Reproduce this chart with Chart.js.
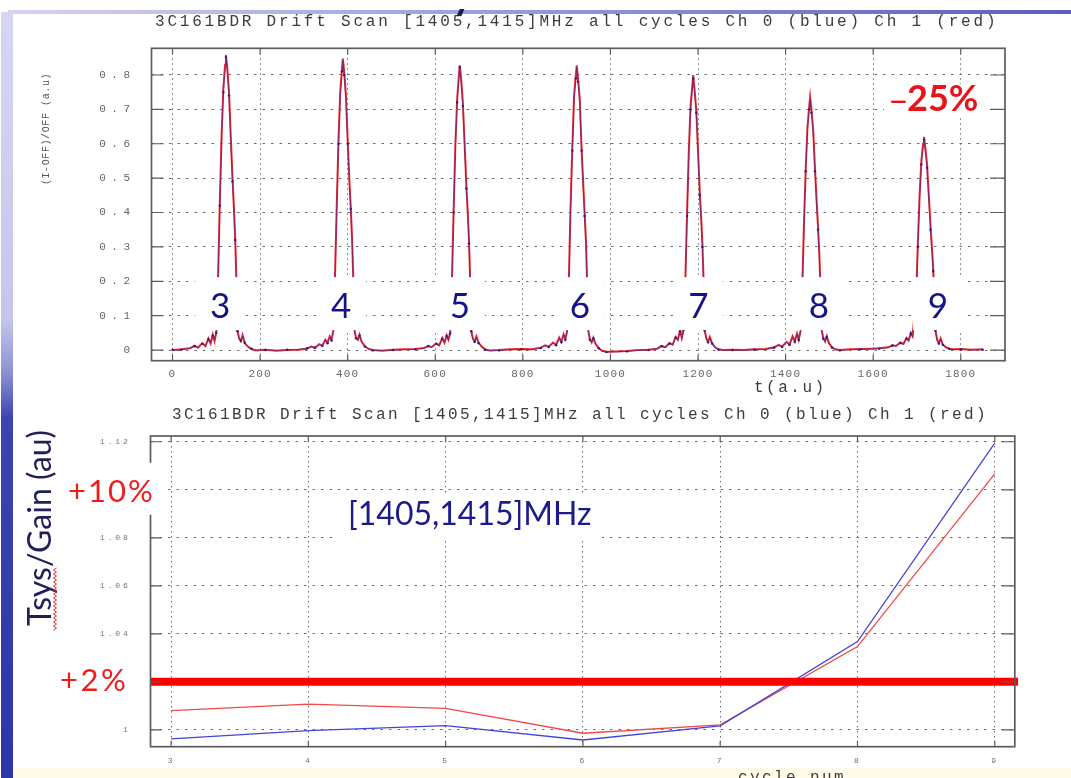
<!DOCTYPE html>
<html>
<head>
<meta charset="utf-8">
<title>3C161BDR drift scan</title>
<script src="https://cdn.jsdelivr.net/npm/chart.js@4.4.1/dist/chart.umd.min.js"></script>
<style>
  html, body { margin: 0; padding: 0; background: #fff; }
  #page { position: relative; width: 1071px; height: 778px; overflow: hidden; background: #fff; }
  #page canvas { position: absolute; left: 0; top: 0; }
  .sidebar { position: absolute; left: 1px; top: 12px; width: 12px; height: 766px;
    background: linear-gradient(to bottom, #d6d6f3 0%, #c6c6ed 40%, #8d92d2 47%, #3c44b2 53%, #2c36a6 100%); }
  .topline { position: absolute; left: 8px; top: 10px; width: 1063px; height: 4px;
    background: linear-gradient(to right, #d4d4f1, #a0a4da 40%, #5a60b8); }
  .footer { position: absolute; left: 13px; top: 768px; width: 1058px; height: 10px; background: #fffbe8; }
</style>
</head>
<body>
<div id="page">
  <div class="sidebar"></div>
  <div class="topline"></div>
  <div class="footer"></div>
  <canvas id="scan" width="1071" height="778"></canvas>
  <canvas id="gain" width="1071" height="778"></canvas>
</div>
<script>
// drift scan samples: time (a.u) and (I-OFF)/OFF for both channels
const scanT = [
  0, 10,
  20, 40, 50, 58, 68, 75, 82, 87, 92, 96, 100, 104, 108, 112, 116, 120, 122, 125, 129, 133, 137, 140, 143, 146, 148, 152, 156, 160, 165, 172, 180, 190, 212, 237, 262,
  287, 307, 317, 325, 335, 342, 349, 354, 359, 363, 367, 371, 375, 379, 383, 387, 389, 392, 396, 400, 404, 407, 410, 413, 415, 419, 423, 427, 432, 439, 447, 457, 479, 504, 529,
  554, 574, 584, 592, 602, 609, 616, 621, 626, 630, 634, 638, 642, 646, 650, 654, 656, 659, 663, 667, 671, 674, 677, 680, 682, 686, 690, 694, 699, 706, 714, 724, 746, 771, 796,
  821, 841, 851, 859, 869, 876, 883, 888, 893, 897, 901, 905, 909, 913, 917, 921, 923, 926, 930, 934, 938, 941, 944, 947, 949, 953, 957, 961, 966, 973, 981, 991, 1013, 1038, 1063,
  1087, 1107, 1117, 1125, 1135, 1142, 1149, 1154, 1159, 1163, 1167, 1171, 1175, 1179, 1183, 1187, 1189, 1192, 1196, 1200, 1204, 1207, 1210, 1213, 1215, 1219, 1223, 1227, 1232, 1239, 1247, 1257, 1279, 1304, 1329,
  1354, 1374, 1384, 1392, 1402, 1409, 1416, 1421, 1426, 1430, 1434, 1438, 1442, 1446, 1450, 1454, 1456, 1459, 1463, 1467, 1471, 1474, 1477, 1480, 1482, 1486, 1490, 1494, 1499, 1506, 1514, 1524, 1546, 1571, 1596,
  1614, 1634, 1644, 1652, 1662, 1669, 1676, 1681, 1686, 1690, 1694, 1698, 1702, 1706, 1710, 1714, 1716, 1719, 1723, 1727, 1731, 1734, 1737, 1740, 1742, 1746, 1750, 1754, 1759, 1766, 1774, 1784, 1800, 1825, 1850
];
// Ch 0 (blue)
const ch0Scan = [
  0.001, 0.0,
  0.001, 0.006, 0.011, 0.008, 0.018, 0.012, 0.031, 0.02, 0.042, 0.028, 0.05, 0.2, 0.42, 0.61, 0.75, 0.82, 0.852, 0.815, 0.74, 0.61, 0.49, 0.41, 0.32, 0.19, 0.055, 0.032, 0.027, 0.04, 0.021, 0.011, 0.004, 0.0, 0.0, -0.001, 0.001,
  0.002, 0.005, 0.011, 0.007, 0.016, 0.012, 0.029, 0.02, 0.038, 0.028, 0.052, 0.2, 0.41, 0.6, 0.74, 0.81, 0.842, 0.8, 0.73, 0.6, 0.48, 0.41, 0.32, 0.19, 0.058, 0.034, 0.028, 0.042, 0.022, 0.01, 0.003, -0.001, -0.001, 0.0, 0.001,
  0.002, 0.005, 0.012, 0.008, 0.018, 0.013, 0.033, 0.022, 0.041, 0.029, 0.048, 0.19, 0.4, 0.59, 0.72, 0.79, 0.822, 0.78, 0.71, 0.59, 0.47, 0.4, 0.31, 0.18, 0.055, 0.031, 0.024, 0.038, 0.02, 0.009, 0.001, -0.002, -0.001, 0.001, 0.002,
  0.001, 0.006, 0.013, 0.009, 0.02, 0.014, 0.034, 0.023, 0.044, 0.03, 0.052, 0.19, 0.41, 0.58, 0.73, 0.79, 0.822, 0.78, 0.72, 0.58, 0.47, 0.39, 0.31, 0.18, 0.056, 0.03, 0.021, 0.034, 0.016, 0.005, -0.003, -0.006, -0.005, -0.004, -0.001,
  0.0, 0.005, 0.011, 0.007, 0.019, 0.015, 0.036, 0.028, 0.055, 0.033, 0.058, 0.19, 0.39, 0.57, 0.7, 0.76, 0.79, 0.75, 0.69, 0.57, 0.45, 0.38, 0.3, 0.18, 0.057, 0.032, 0.023, 0.036, 0.019, 0.007, 0.001, -0.001, 0.0, -0.001, 0.001,
  0.002, 0.007, 0.014, 0.009, 0.022, 0.015, 0.038, 0.024, 0.046, 0.029, 0.052, 0.17, 0.36, 0.52, 0.64, 0.7, 0.73, 0.69, 0.63, 0.52, 0.42, 0.35, 0.27, 0.16, 0.056, 0.033, 0.024, 0.038, 0.019, 0.007, 0.001, -0.001, 0.001, 0.002, 0.003,
  0.004, 0.007, 0.013, 0.011, 0.02, 0.017, 0.033, 0.027, 0.048, 0.038, 0.09, 0.14, 0.3, 0.44, 0.54, 0.59, 0.612, 0.58, 0.53, 0.44, 0.35, 0.29, 0.23, 0.14, 0.056, 0.028, 0.019, 0.032, 0.015, 0.007, 0.003, 0.001, 0.002, 0.0, 0.001
];
// Ch 1 (red)
const ch1Scan = [
  0.0, 0.001,
  0.002, 0.005, 0.013, 0.007, 0.02, 0.011, 0.034, 0.019, 0.045, 0.026, 0.052, 0.21, 0.43, 0.62, 0.76, 0.83, 0.858, 0.82, 0.75, 0.62, 0.5, 0.42, 0.33, 0.2, 0.06, 0.034, 0.026, 0.044, 0.02, 0.01, 0.003, -0.001, 0.001, -0.002, 0.0,
  0.001, 0.004, 0.01, 0.006, 0.017, 0.013, 0.03, 0.022, 0.04, 0.03, 0.055, 0.21, 0.42, 0.61, 0.75, 0.82, 0.848, 0.81, 0.74, 0.61, 0.49, 0.415, 0.325, 0.2, 0.062, 0.036, 0.03, 0.045, 0.024, 0.012, 0.004, 0.0, -0.002, 0.001, 0.002,
  0.003, 0.006, 0.011, 0.009, 0.019, 0.014, 0.035, 0.021, 0.043, 0.03, 0.05, 0.2, 0.41, 0.6, 0.73, 0.8, 0.828, 0.79, 0.72, 0.6, 0.48, 0.405, 0.32, 0.19, 0.058, 0.033, 0.025, 0.04, 0.021, 0.01, 0.002, -0.001, 0.0, 0.002, 0.003,
  0.002, 0.007, 0.014, 0.01, 0.022, 0.015, 0.036, 0.024, 0.046, 0.032, 0.054, 0.2, 0.42, 0.59, 0.74, 0.8, 0.828, 0.79, 0.73, 0.59, 0.48, 0.4, 0.32, 0.19, 0.06, 0.032, 0.022, 0.036, 0.018, 0.006, -0.002, -0.005, -0.004, -0.003, 0.0,
  0.001, 0.004, 0.012, 0.008, 0.02, 0.016, 0.038, 0.03, 0.058, 0.035, 0.06, 0.2, 0.4, 0.58, 0.71, 0.77, 0.8, 0.76, 0.7, 0.58, 0.46, 0.39, 0.31, 0.19, 0.06, 0.034, 0.024, 0.038, 0.02, 0.008, 0.002, 0.0, 0.001, 0.0, 0.002,
  0.003, 0.008, 0.015, 0.01, 0.024, 0.016, 0.04, 0.025, 0.048, 0.03, 0.055, 0.18, 0.37, 0.53, 0.65, 0.71, 0.736, 0.7, 0.64, 0.53, 0.43, 0.36, 0.28, 0.17, 0.06, 0.035, 0.025, 0.04, 0.02, 0.008, 0.002, 0.0, 0.002, 0.003, 0.004,
  0.005, 0.008, 0.014, 0.012, 0.022, 0.018, 0.035, 0.028, 0.05, 0.04, 0.1, 0.15, 0.31, 0.45, 0.55, 0.6, 0.62, 0.59, 0.54, 0.45, 0.36, 0.3, 0.24, 0.15, 0.06, 0.03, 0.02, 0.034, 0.016, 0.008, 0.004, 0.002, 0.003, 0.001, 0.002
];

// cycle numbers, and where each cycle label sits along the scan
const cycleNums = [3, 4, 5, 6, 7, 8, 9];
const cycleLabelT = [109, 385, 656, 930, 1201, 1476, 1748];

// Tsys/Gain per cycle
const ch0Gain = [0.9963, 0.9997, 1.0018, 0.9958, 1.0017, 1.0368, 1.1194];
const ch1Gain = [1.008, 1.0107, 1.009, 0.9986, 1.0021, 1.0347, 1.1066];
const gainRef = 1.02;    // +2% level
const gainTen = 1.10;    // +10% level

const TITLE = '3C161BDR Drift Scan [1405,1415]MHz all cycles Ch 0 (blue) Ch 1 (red)';
const MONO = '"Liberation Mono", "DejaVu Sans Mono", monospace';
const SANS = 'Lato, "Open Sans", sans-serif';

// tick labels in these plots are widely spaced; apply canvas letter spacing per scale
function tickSpacing(spec) {
  return {
    id: 'tickSpacing',
    afterUpdate(chart) {
      Object.entries(spec).forEach(([id, sp]) => {
        const s = chart.scales[id];
        if (!s || s._spaced) return;
        const orig = s.drawLabels;
        s.drawLabels = function (area) {
          const c = this.ctx;
          c.save();
          c.letterSpacing = sp;
          orig.call(this, area);
          c.restore();
        };
        s._spaced = true;
      });
    }
  };
}

// axis box size is pinned so the plot area lands where it should
function axis(min, max, step, fit, o) {
  return {
    type: 'linear', min, max,
    ticks: {
      stepSize: step, includeBounds: false, padding: o.pad, color: o.color,
      font: { family: MONO, size: o.size }, maxRotation: 0, autoSkip: false,
      callback: v => String(v)
    },
    grid: { drawTicks: false, color: '#6c6c6c', lineWidth: 1 },
    border: { display: false, dash: o.dash },
    afterFit(s) { if (s.isHorizontal()) s.height = fit; else s.width = fit; }
  };
}

// closed frame with short inward tick marks on all four sides
function drawFrame(chart, len) {
  const { ctx, chartArea: a, scales: { x, y } } = chart;
  ctx.save();
  ctx.strokeStyle = '#5c5c5c';
  ctx.lineWidth = 1.7;
  ctx.strokeRect(a.left, a.top, a.right - a.left, a.bottom - a.top);
  ctx.lineWidth = 1.2;
  ctx.beginPath();
  y.ticks.forEach(t => {
    const py = y.getPixelForValue(t.value);
    ctx.moveTo(a.left, py); ctx.lineTo(a.left + len.left, py);
    ctx.moveTo(a.right, py); ctx.lineTo(a.right - len.right, py);
  });
  x.ticks.forEach(t => {
    const px = x.getPixelForValue(t.value);
    ctx.moveTo(px, a.top); ctx.lineTo(px, a.top + len.v);
    ctx.moveTo(px, a.bottom); ctx.lineTo(px, a.bottom - len.v);
  });
  ctx.stroke();
  ctx.restore();
}

function text(ctx, str, x, y, font, color, spacing, align) {
  ctx.save();
  ctx.font = font;
  ctx.fillStyle = color;
  ctx.letterSpacing = spacing || '0px';
  ctx.textAlign = align || 'left';
  ctx.textBaseline = 'middle';
  ctx.fillText(str, x, y);
  ctx.restore();
}

function upText(ctx, str, cx, cy, font, color, spacing) {
  ctx.save();
  ctx.translate(cx, cy);
  ctx.rotate(-Math.PI / 2);
  text(ctx, str, 0, 0, font, color, spacing, 'center');
  ctx.restore();
}

function whiteBox(ctx, x0, y0, x1, y1) {
  ctx.save();
  ctx.fillStyle = '#ffffff';
  ctx.fillRect(x0, y0, x1 - x0, y1 - y0);
  ctx.restore();
}

const scanOverlay = {
  id: 'scanOverlay',
  afterDraw(chart) {
    const { ctx, scales: { x, y } } = chart;
    drawFrame(chart, { left: 12, right: 15, v: 6 });

    // cycle numbers on white boxes over the feet of the peaks
    const top = y.getPixelForValue(0.212), bot = y.getPixelForValue(0.058);
    cycleNums.forEach((n, i) => {
      const px = x.getPixelForValue(cycleLabelT[i]);
      whiteBox(ctx, px - 25, top, px + 25, bot);
      ctx.save();
      ctx.font = '35px ' + SANS;
      ctx.fillStyle = '#14148a';
      ctx.textAlign = 'center';
      ctx.textBaseline = 'alphabetic';
      ctx.fillText(String(n), px, y.getPixelForValue(0.093));
      ctx.restore();
    });

    // drop of the last peak
    whiteBox(ctx, 884, 84, 988, 116);
    text(ctx, '\u2013', 888, 101, '36px ' + SANS, '#e8141c');
    text(ctx, '25%', 907, 99, 'bold 36px ' + SANS, '#e8141c');

    text(ctx, TITLE, 155, 22, '16px ' + MONO, '#3c3c3c', '2.8px');
    text(ctx, 't(a.u)', 754, 388, '16px ' + MONO, '#3c3c3c', '2.5px');
    upText(ctx, '(I-OFF)/OFF (a.u)', 46, 129, '10px ' + MONO, '#555', '0.6px');

    // descender of the slide heading above the plots
    ctx.save();
    ctx.beginPath();
    ctx.rect(440, 9, 40, 12);
    ctx.clip();
    ctx.font = 'bold 40px ' + SANS;
    ctx.fillStyle = '#1c1c4e';
    ctx.textBaseline = 'alphabetic';
    ctx.fillText('y', 452, 9);
    ctx.restore();
  }
};

const gainOverlay = {
  id: 'gainOverlay',
  afterDraw(chart) {
    const { ctx, scales: { y } } = chart;
    drawFrame(chart, { left: 11, right: 13, v: 6 });

    const yTen = y.getPixelForValue(gainTen);
    const yRef = y.getPixelForValue(gainRef);
    whiteBox(ctx, 58, yTen - 27, 166, yTen + 25);
    text(ctx, '+10%', 68, yTen + 2, '31px ' + SANS, '#f01c1c', '2px');
    whiteBox(ctx, 55, yRef - 19, 140, yRef + 18);
    text(ctx, '+2%', 60, yRef - 1, '31px ' + SANS, '#f01c1c', '2.5px');

    whiteBox(ctx, 338, 494, 602, 541);
    text(ctx, '[1405,1415]MHz', 348, 515, '32px ' + SANS, '#1b1b8c');

    upText(ctx, 'Tsys/Gain (au)', 41, 528, '32px ' + SANS, '#1e2058');
    // spell-check squiggle under "Tsys"
    ctx.save();
    ctx.strokeStyle = '#e02a2a';
    ctx.lineWidth = 1;
    ctx.beginPath();
    for (let k = 0; k <= 31; k++) {
      const py = 630 - k * 2;
      const px = 55 + (k % 2 ? 1.5 : -1.5);
      if (k === 0) ctx.moveTo(px, py); else ctx.lineTo(px, py);
    }
    ctx.stroke();
    ctx.restore();

    text(ctx, TITLE, 172, 415, '16px ' + MONO, '#3c3c3c', '2.4px');
    text(ctx, 'cycle num.', 738, 778, '16px ' + MONO, '#3c3c3c', '2.4px');
  }
};

const noUi = { legend: { display: false }, title: { display: false }, tooltip: { enabled: false } };

new Chart(document.getElementById('scan'), {
  type: 'line',
  data: {
    datasets: [
      {
        label: 'Ch 0',
        data: scanT.map((t, i) => ({ x: t, y: ch0Scan[i] })),
        borderColor: 'rgba(48, 36, 150, 0.6)',
        borderWidth: 0.9,
        pointRadius: c => (c.dataIndex % 2 ? 0 : 1.2),
        pointBackgroundColor: '#2a1e86',
        pointBorderWidth: 0,
        tension: 0,
        order: 0
      },
      {
        label: 'Ch 1',
        data: scanT.map((t, i) => ({ x: t, y: ch1Scan[i] })),
        borderColor: '#ea2a2e',
        borderWidth: 2,
        pointRadius: 0,
        tension: 0,
        order: 1
      }
    ]
  },
  options: {
    responsive: false,
    animation: false,
    events: [],
    layout: { padding: { left: 0, top: 48.3, right: 1071 - 1005, bottom: 0 } },
    plugins: noUi,
    scales: {
      x: axis(-48, 1901, 200, 778 - 360.7, { pad: 7, size: 11, color: '#666', dash: [1.5, 3.5] }),
      y: axis(-0.031, 0.8776, 0.1, 151.5, { pad: 16, size: 11, color: '#666', dash: [2.5, 6] })
    }
  },
  plugins: [tickSpacing({ x: '1.2px', y: '5.5px' }), scanOverlay]
});

new Chart(document.getElementById('gain'), {
  type: 'line',
  data: {
    datasets: [
      {
        label: '+2%',
        data: [{ x: 2.85, y: gainRef }, { x: 9.17, y: gainRef }],
        borderColor: '#ff0000',
        borderWidth: 8,
        pointRadius: 0,
        clip: false,
        order: 0
      },
      {
        label: 'Ch 0',
        data: cycleNums.map((c, i) => ({ x: c, y: ch0Gain[i] })),
        borderColor: '#4444d8',
        borderWidth: 1.3,
        pointRadius: 0,
        tension: 0,
        order: 1
      },
      {
        label: 'Ch 1',
        data: cycleNums.map((c, i) => ({ x: c, y: ch1Gain[i] })),
        borderColor: '#f24848',
        borderWidth: 1.3,
        pointRadius: 0,
        tension: 0,
        order: 2
      }
    ]
  },
  options: {
    responsive: false,
    animation: false,
    events: [],
    layout: { padding: { left: 0, top: 436, right: 1071 - 1014.8, bottom: 0 } },
    plugins: noUi,
    scales: {
      x: axis(2.85, 9.146, 1, 778 - 746.7, { pad: 9, size: 8, color: '#707070', dash: [1.5, 3.5] }),
      y: axis(0.993, 1.1224, 0.02, 150.5, { pad: 20, size: 8, color: '#707070', dash: [2.5, 6] })
    }
  },
  plugins: [tickSpacing({ x: '2px', y: '2.8px' }), gainOverlay]
});
</script>
</body>
</html>
